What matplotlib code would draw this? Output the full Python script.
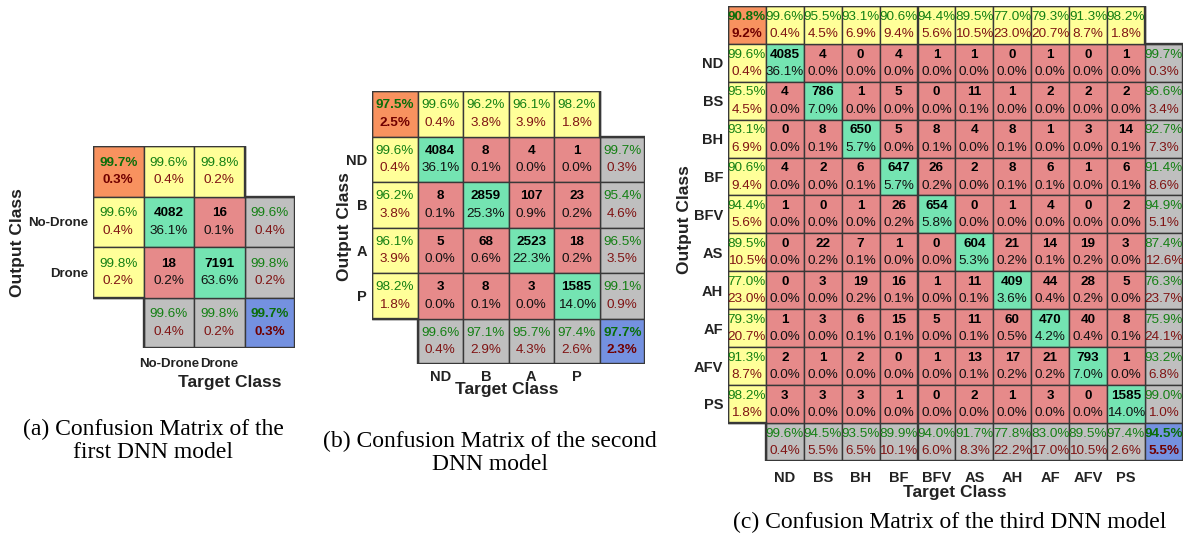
import matplotlib
matplotlib.use("Agg")
import matplotlib.pyplot as plt
from matplotlib.patches import Rectangle, Polygon

plt.rcParams["font.family"] = ["Liberation Sans", "DejaVu Sans"]

W, H = 1184, 536

# ---- (a) first DNN model ----
a_labels = ["No-Drone", "Drone"]
a_counts = [[4082, 16],
            [18, 7191]]
a_pct = [[36.1, 0.1],
         [0.2, 63.6]]
a_side_ok = [99.6, 99.8]      # top row / left column
a_side_err = [0.4, 0.2]
a_right_ok = [99.6, 99.8]
a_right_err = [0.4, 0.2]
a_bottom_ok = [99.6, 99.8]
a_bottom_err = [0.4, 0.2]
a_corner = (99.7, 0.3)
a_total = (99.7, 0.3)

# ---- (b) second DNN model ----
b_labels = ["ND", "B", "A", "P"]
b_counts = [[4084, 8, 4, 1],
            [8, 2859, 107, 23],
            [5, 68, 2523, 18],
            [3, 8, 3, 1585]]
b_pct = [[36.1, 0.1, 0.0, 0.0],
         [0.1, 25.3, 0.9, 0.2],
         [0.0, 0.6, 22.3, 0.2],
         [0.0, 0.1, 0.0, 14.0]]
b_side_ok = [99.6, 96.2, 96.1, 98.2]
b_side_err = [0.4, 3.8, 3.9, 1.8]
b_right_ok = [99.7, 95.4, 96.5, 99.1]
b_right_err = [0.3, 4.6, 3.5, 0.9]
b_bottom_ok = [99.6, 97.1, 95.7, 97.4]
b_bottom_err = [0.4, 2.9, 4.3, 2.6]
b_corner = (97.5, 2.5)
b_total = (97.7, 2.3)

# ---- (c) third DNN model ----
c_labels = ["ND", "BS", "BH", "BF", "BFV", "AS", "AH", "AF", "AFV", "PS"]
c_counts = [[4085, 4, 0, 4, 1, 1, 0, 1, 0, 1],
            [4, 786, 1, 5, 0, 11, 1, 2, 2, 2],
            [0, 8, 650, 5, 8, 4, 8, 1, 3, 14],
            [4, 2, 6, 647, 26, 2, 8, 6, 1, 6],
            [1, 0, 1, 26, 654, 0, 1, 4, 0, 2],
            [0, 22, 7, 1, 0, 604, 21, 14, 19, 3],
            [0, 3, 19, 16, 1, 11, 409, 44, 28, 5],
            [1, 3, 6, 15, 5, 11, 60, 470, 40, 8],
            [2, 1, 2, 0, 1, 13, 17, 21, 793, 1],
            [3, 3, 3, 1, 0, 2, 1, 3, 0, 1585]]
c_pct = [[36.1, 0.0, 0.0, 0.0, 0.0, 0.0, 0.0, 0.0, 0.0, 0.0],
         [0.0, 7.0, 0.0, 0.0, 0.0, 0.1, 0.0, 0.0, 0.0, 0.0],
         [0.0, 0.1, 5.7, 0.0, 0.1, 0.0, 0.1, 0.0, 0.0, 0.1],
         [0.0, 0.0, 0.1, 5.7, 0.2, 0.0, 0.1, 0.1, 0.0, 0.1],
         [0.0, 0.0, 0.0, 0.2, 5.8, 0.0, 0.0, 0.0, 0.0, 0.0],
         [0.0, 0.2, 0.1, 0.0, 0.0, 5.3, 0.2, 0.1, 0.2, 0.0],
         [0.0, 0.0, 0.2, 0.1, 0.0, 0.1, 3.6, 0.4, 0.2, 0.0],
         [0.0, 0.0, 0.1, 0.1, 0.0, 0.1, 0.5, 4.2, 0.4, 0.1],
         [0.0, 0.0, 0.0, 0.0, 0.0, 0.1, 0.2, 0.2, 7.0, 0.0],
         [0.0, 0.0, 0.0, 0.0, 0.0, 0.0, 0.0, 0.0, 0.0, 14.0]]
c_side_ok = [99.6, 95.5, 93.1, 90.6, 94.4, 89.5, 77.0, 79.3, 91.3, 98.2]
c_side_err = [0.4, 4.5, 6.9, 9.4, 5.6, 10.5, 23.0, 20.7, 8.7, 1.8]
c_right_ok = [99.7, 96.6, 92.7, 91.4, 94.9, 87.4, 76.3, 75.9, 93.2, 99.0]
c_right_err = [0.3, 3.4, 7.3, 8.6, 5.1, 12.6, 23.7, 24.1, 6.8, 1.0]
c_bottom_ok = [99.6, 94.5, 93.5, 89.9, 94.0, 91.7, 77.8, 83.0, 89.5, 97.4]
c_bottom_err = [0.4, 5.5, 6.5, 10.1, 6.0, 8.3, 22.2, 17.0, 10.5, 2.6]
c_corner = (90.8, 9.2)
c_total = (94.5, 5.5)

ORANGE = "#f8925f"
YELLOW = "#ffff99"
GREEN = "#74e4b2"
RED = "#e68a8a"
GRAY = "#bfbfbf"
BLUE = "#7491e0"
EDGE = "#383838"
TXT_OK = "#148014"
TXT_ERR = "#801414"
FS = 9.7


def cell(ax, r, c, color):
    ax.add_patch(Rectangle((c, r), 1, 1, facecolor=color, edgecolor=EDGE, linewidth=1.0))


def two_lines(ax, r, c, top, bottom, d1, d2, top_color, bottom_color, top_w="normal", bottom_w="normal"):
    ax.text(c + 0.5, r + 0.5 - d1, top, ha="center", va="center", fontsize=FS,
            color=top_color, fontweight=top_w)
    ax.text(c + 0.5, r + 0.5 + d2, bottom, ha="center", va="center", fontsize=FS,
            color=bottom_color, fontweight=bottom_w)


def draw_cm(box, labels, counts, pct, side_ok, side_err, right_ok, right_err,
            bottom_ok, bottom_err, corner, total, xpad, tick_fs, ylab_xy, xlab_xy):
    left, top, cpx = box
    n = len(labels)
    size = cpx * (n + 2)
    ax = fig.add_axes([left / W, 1 - (top + size) / H, size / W, size / H])
    ax.set_xlim(0, n + 2)
    ax.set_ylim(n + 2, 0)
    d1, d2 = 8.3 / cpx, 9.0 / cpx

    # corner
    cell(ax, 0, 0, ORANGE)
    two_lines(ax, 0, 0, f"{corner[0]:.1f}%", f"{corner[1]:.1f}%", d1, d2, "#0a6e0a", "#700000", "bold", "bold")
    for i in range(n):
        # top row and left column
        cell(ax, 0, i + 1, YELLOW)
        two_lines(ax, 0, i + 1, f"{side_ok[i]:.1f}%", f"{side_err[i]:.1f}%", d1, d2, TXT_OK, TXT_ERR)
        cell(ax, i + 1, 0, YELLOW)
        two_lines(ax, i + 1, 0, f"{side_ok[i]:.1f}%", f"{side_err[i]:.1f}%", d1, d2, TXT_OK, TXT_ERR)
        # right column and bottom row
        cell(ax, i + 1, n + 1, GRAY)
        two_lines(ax, i + 1, n + 1, f"{right_ok[i]:.1f}%", f"{right_err[i]:.1f}%", d1, d2, TXT_OK, TXT_ERR)
        cell(ax, n + 1, i + 1, GRAY)
        two_lines(ax, n + 1, i + 1, f"{bottom_ok[i]:.1f}%", f"{bottom_err[i]:.1f}%", d1, d2, TXT_OK, TXT_ERR)
        for j in range(n):
            cell(ax, i + 1, j + 1, GREEN if i == j else RED)
            two_lines(ax, i + 1, j + 1, str(counts[i][j]), f"{pct[i][j]:.1f}%", d1, d2,
                      "black", "#111111", "bold", "normal")
    cell(ax, n + 1, n + 1, BLUE)
    two_lines(ax, n + 1, n + 1, f"{total[0]:.1f}%", f"{total[1]:.1f}%", d1, d2, "#0a6e0a", "#700000", "bold", "bold")

    outline = [(0, 0), (n + 1, 0), (n + 1, 1), (n + 2, 1), (n + 2, n + 2),
               (1, n + 2), (1, n + 1), (0, n + 1)]
    ax.add_patch(Polygon(outline, closed=True, fill=False, edgecolor=EDGE, linewidth=1.7))

    for s in ax.spines.values():
        s.set_visible(False)
    ax.set_xticks([k + 1.5 for k in range(n)])
    ax.set_xticklabels(labels, fontweight="bold", fontsize=tick_fs, color="#222222")
    ax.set_yticks([k + 1.5 for k in range(n)])
    ax.set_yticklabels(labels, fontweight="bold", fontsize=tick_fs, color="#222222")
    ax.tick_params(length=0, pad=3.5)
    ax.tick_params(axis="x", pad=xpad)

    ax.set_ylabel("Output Class", fontweight="bold", fontsize=12.5, color="#222222")
    ax.yaxis.set_label_coords((ylab_xy[0] - left) / size, (top + size - ylab_xy[1]) / size)
    ax.set_xlabel("Target Class", fontweight="bold", fontsize=12.5, color="#222222")
    ax.xaxis.set_label_coords((xlab_xy[0] - left) / size, (top + size - xlab_xy[1]) / size)
    return ax


fig = plt.figure(figsize=(W / 100, H / 100), dpi=100)

draw_cm((93, 146, 50.5), a_labels, a_counts, a_pct, a_side_ok, a_side_err,
        a_right_ok, a_right_err, a_bottom_ok, a_bottom_err, a_corner, a_total,
        xpad=7, tick_fs=9.5, ylab_xy=(25, 243), xlab_xy=(230, 375))
draw_cm((372, 91, 45.5), b_labels, b_counts, b_pct, b_side_ok, b_side_err,
        b_right_ok, b_right_err, b_bottom_ok, b_bottom_err, b_corner, b_total,
        xpad=4, tick_fs=10.5, ylab_xy=(352, 227), xlab_xy=(507, 382))
draw_cm((728, 6, 37.9), c_labels, c_counts, c_pct, c_side_ok, c_side_err,
        c_right_ok, c_right_err, c_bottom_ok, c_bottom_err, c_corner, c_total,
        xpad=7.5, tick_fs=10.5, ylab_xy=(692, 220), xlab_xy=(955, 485))

cap = dict(ha="center", va="center", fontsize=17, family=["Liberation Serif", "DejaVu Serif"],
           linespacing=1.1)
fig.text(153 / W, 1 - 441 / H, "(a) Confusion Matrix of the\nfirst DNN model", **cap)
fig.text(490 / W, 1 - 453 / H, "(b) Confusion Matrix of the second\nDNN model", **cap)
fig.text(950 / W, 1 - 522 / H, "(c) Confusion Matrix of the third DNN model", **cap)

fig.savefig("out.png", dpi=100)
